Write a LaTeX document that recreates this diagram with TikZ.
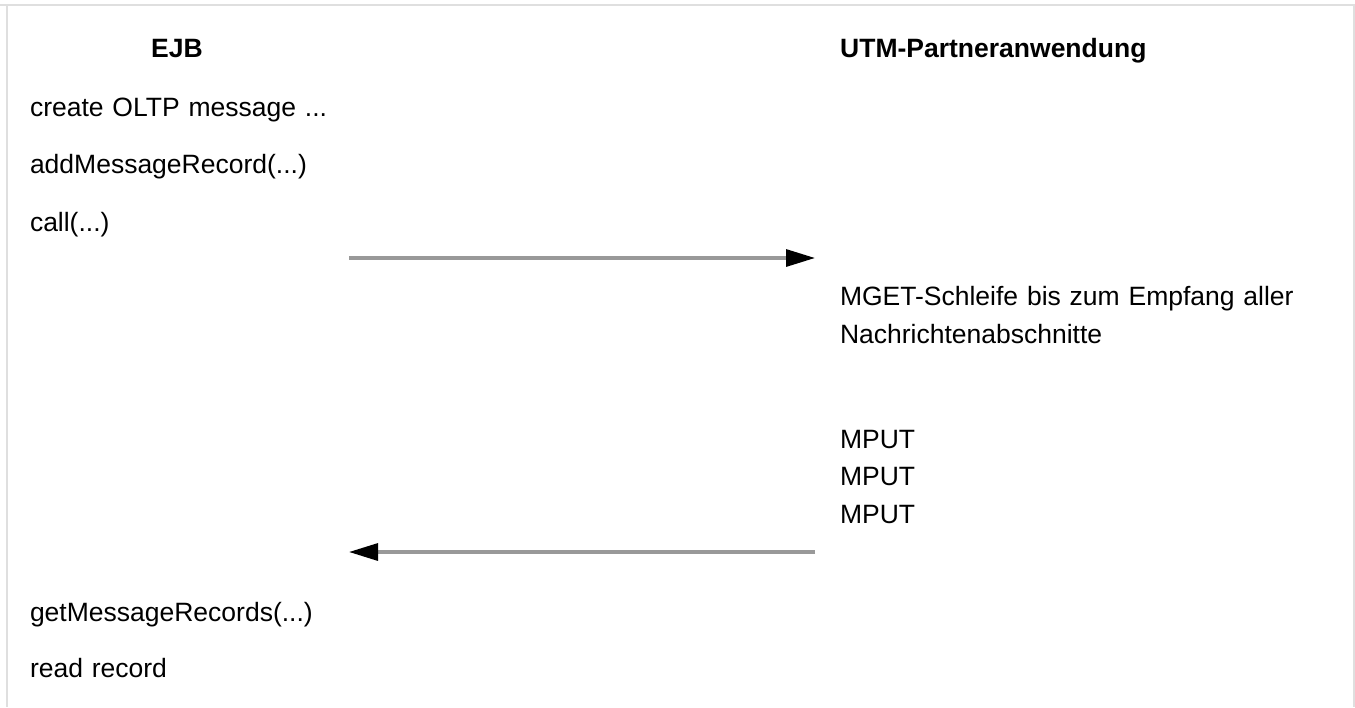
\documentclass[tikz,border=0pt]{standalone}
\usepackage{fontspec}
\setmainfont{Liberation Sans}
\usetikzlibrary{arrows.meta}

\tikzset{
  txt/.style={font=\fontsize{26.5}{31.8}\selectfont, inner sep=0pt, text height=19pt, text depth=6pt, text width=#1, align=left},
  txt/.default=300pt,
  kopf/.style={font=\fontsize{26.5}{31.8}\selectfont\bfseries, inner sep=0pt, text height=19pt, text depth=6pt},
  nachricht/.style={draw=gray!80, line width=3.2pt, -{Triangle[length=29pt, width=17pt, color=black]}},
  rahmen/.style={draw=gray!25, line width=2pt}
}

\begin{document}
\begin{tikzpicture}[x=1pt, y=-1pt, node distance=57.5pt]
\useasboundingbox (0,0) rectangle (1355,707);
\draw[rahmen] (0,5) -- (1355,5);
\draw[rahmen] (7,5) -- (7,707);
\draw[rahmen] (1354,5) -- (1354,707);

% Kopfzeile
\node[kopf] (ejb) at (177,50.5) {EJB};
\node[kopf, anchor=west] (utm) at (840,51.2) {UTM-Partneranwendung};

% EJB-Seite
\node[txt] (create) at (180,109.5) {create OLTP message ...};
\node[txt, below of=create] (add) {addMessageRecord(...)};
\node[txt, below of=add] (call) {call(...)};

\node[txt] (get) at (180,614.5) {getMessageRecords(...)};
\node[txt, below of=get, node distance=56.7pt] (read) {read record};

% UTM-Seite
\node[txt=480pt] (mget) at (1080,298.5) {MGET-Schleife bis zum Empfang aller};
\node[txt=480pt, below of=mget, node distance=38.6pt] (nachr) {Nachrichtenabschnitte};
\node[txt=480pt] (mput1) at (1080,442.1) {MPUT};
\node[txt=480pt, below of=mput1, node distance=37.3pt] (mput2) {MPUT};
\node[txt=480pt, below of=mput2, node distance=37.3pt] (mput3) {MPUT};

% Nachrichten
\coordinate (hinL) at (349,258);
\coordinate (hinR) at (815,258);
\coordinate (rueckR) at (815,552);
\coordinate (rueckL) at (349,552);
\draw[nachricht] (hinL) -- (hinR);
\draw[nachricht] (rueckR) -- (rueckL);
\end{tikzpicture}
\end{document}
